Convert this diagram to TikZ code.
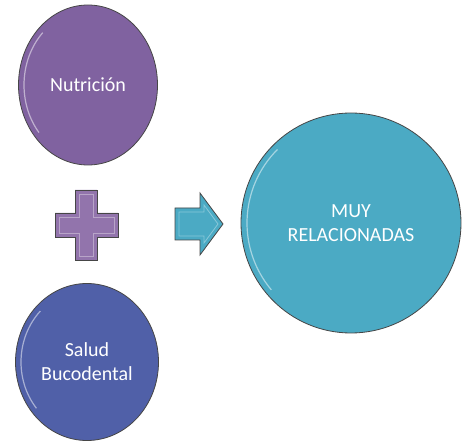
\documentclass[tikz,border=0pt]{standalone}
\usepackage{fontspec}
\setmainfont{Carlito}
\usetikzlibrary{shapes.geometric}
\definecolor{nutri}{RGB}{128,98,160}
\definecolor{salud}{RGB}{80,96,168}
\definecolor{mas}{RGB}{146,116,172}
\definecolor{relac}{RGB}{75,170,196}
\definecolor{borde}{RGB}{70,70,70}
\begin{document}
\begin{tikzpicture}[x=1pt, y=-1pt, bola/.style={draw=borde, ellipse, line width=0.8pt, inner sep=0pt, text=white, align=center, font=\fontsize{20}{24}\selectfont}, brillo/.style={draw=white, line width=1.2pt, opacity=0.5}, bisel/.style={draw=white, line width=0.8pt, opacity=0.35}, forma/.style={draw=borde, line width=0.8pt, line join=miter}]
            \useasboundingbox (0,0) rectangle (463,443);
            % nodes
            \node[bola, fill=nutri, minimum width=139pt, minimum height=160pt] (nutricion) at (88,85) {Nutrición};
            \node[bola, fill=salud, minimum width=143pt, minimum height=157pt] (salud) at (87,362) {Salud\\Bucodental};
            \node[bola, fill=relac, minimum width=220pt, minimum height=220pt] (relacion) at (351,223) {MUY\\RELACIONADAS};
            % highlights
            \draw[brillo] (nutricion.center) ++(140:64 and 74) arc[start angle=140, end angle=225, x radius=64, y radius=74];
            \draw[brillo] (salud.center) ++(140:66 and 72) arc[start angle=140, end angle=225, x radius=66, y radius=72];
            \draw[brillo] (relacion.center) ++(140:104 and 104) arc[start angle=140, end angle=225, x radius=104, y radius=104];
            % plus
            \draw[forma, fill=mas] (75,190) -- (97,190) -- (97,213) -- (118,213) -- (118,237) -- (97,237) -- (97,260) -- (75,260) -- (75,237) -- (55,237) -- (55,213) -- (75,213) -- cycle;
            \draw[bisel] (79,194) -- (93,194) -- (93,217) -- (114,217) -- (114,233) -- (93,233) -- (93,256) -- (79,256) -- (79,233) -- (59,233) -- (59,217) -- (79,217) -- cycle;
            \node (plus) at (86,225) {};
            % arrow
            \draw[forma, fill=relac] (175,208) -- (200,208) -- (200,193) -- (223,224) -- (200,255) -- (200,240) -- (175,240) -- cycle;
            \draw[bisel] (179,212) -- (204,212) -- (204,205) -- (218,224) -- (204,243) -- (204,236) -- (179,236) -- cycle;
            \node (arrow) at (199,224) {};
        \end{tikzpicture}
\end{document}
